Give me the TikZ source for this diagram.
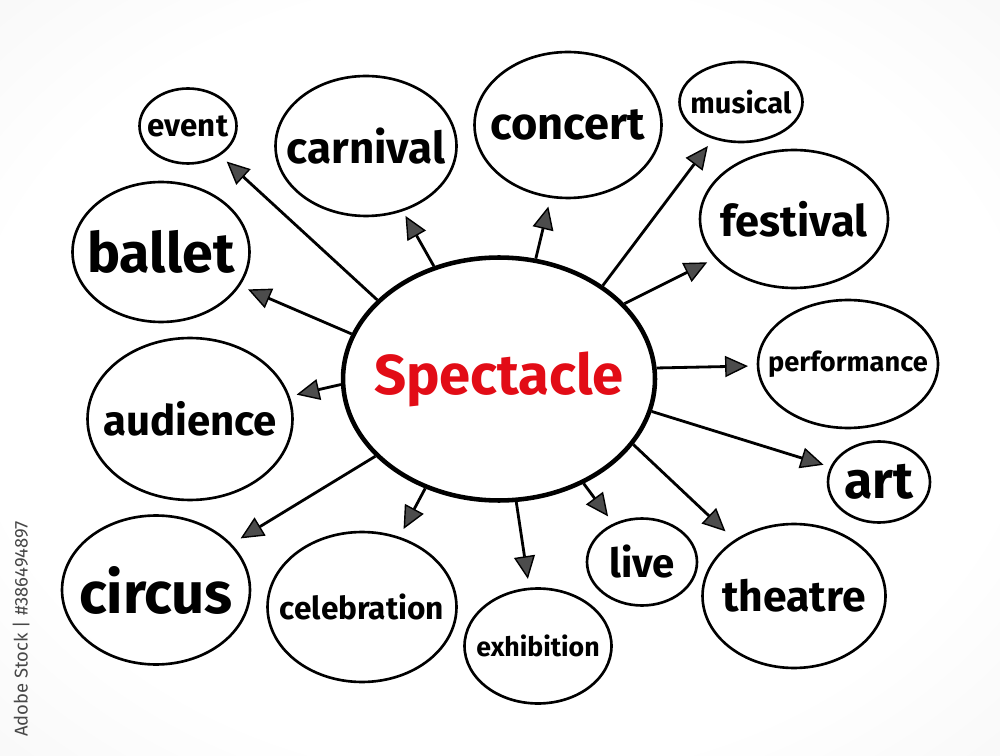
\documentclass[tikz,border=0pt]{standalone}
\usepackage{fontspec}
\setmainfont{Fira Sans}
\usepackage{xcolor}
\usepackage{tikz}
\usetikzlibrary{positioning, shapes.geometric, arrows.meta}

\definecolor{marker}{RGB}{226,12,22}
\pgfdeclareradialshading{paper}{\pgfpoint{0bp}{0bp}}{color(0bp)=(white); color(26bp)=(white); color(60bp)=(black!9); color(72bp)=(black!9)}
\tikzset{word/.style={font=\bfseries\fontsize{#1}{#1}\selectfont}}
% label of zero width, so the ellipse keeps the size given to it
\newcommand{\nowide}[1]{\makebox[0pt]{#1}}

\begin{document}
\begin{tikzpicture}[x=0.02cm, y=-0.02cm]

  \tikzstyle{bubble}=[ellipse, draw, line width=1.5pt, inner sep=0pt]
  \tikzstyle{hub}=[bubble, line width=2.6pt, text=marker]
  \tikzstyle{spoke}=[line width=1.6pt, shorten >=5pt, -{Triangle[length=13pt, width=12pt, fill=black!70, line width=0.8pt]}]

  \shade [shading=paper] (0,0) rectangle (1000,756);
  \useasboundingbox (0,0) rectangle (1000,756);

  \node [hub, minimum width=6.24cm, minimum height=4.86cm, word=32] (spectacle) at (499,379) {\nowide{Spectacle}};

  \node [bubble, minimum width=1.94cm, minimum height=1.5cm, word=17.8] (event) at (188,126) {\nowide{event}};
  \node [bubble, minimum width=3.62cm, minimum height=2.8cm, word=25] (carnival) at (366,146) {\nowide{carnival}};
  \node [bubble, minimum width=3.74cm, minimum height=2.92cm, word=25.7] (concert) at (568,125) {\nowide{concert}};
  \node [bubble, minimum width=2.46cm, minimum height=1.6cm, word=16.5] (musical) at (741,102) {\nowide{musical}};
  \node [bubble, minimum width=3.76cm, minimum height=2.76cm, word=24.7] (festival) at (794,219) {\nowide{festival}};
  \node [bubble, minimum width=3.54cm, minimum height=2.8cm, word=31.6] (ballet) at (161,252) {\nowide{ballet}};
  \node [bubble, minimum width=3.6cm, minimum height=2.56cm, word=15.5] (performance) at (848,364) {\nowide{performance}};
  \node [bubble, minimum width=4.1cm, minimum height=3.24cm, word=23.9] (audience) at (190,419) {\nowide{audience}};
  \node [bubble, minimum width=2.04cm, minimum height=1.62cm, word=29.4] (art) at (879,482) {\nowide{art}};
  \node [bubble, minimum width=3.76cm, minimum height=2.98cm, word=33] (circus) at (156,590) {\nowide{circus}};
  \node [bubble, minimum width=3.78cm, minimum height=3cm, word=18] (celebration) at (362,607) {\nowide{celebration}};
  \node [bubble, minimum width=2.94cm, minimum height=2.3cm, word=15.2] (exhibition) at (538,646) {\nowide{exhibition}};
  \node [bubble, minimum width=2.2cm, minimum height=1.74cm, word=22.9] (live) at (642,562) {\nowide{live}};
  \node [bubble, minimum width=3.66cm, minimum height=2.88cm, word=24.3] (theatre) at (794,596) {\nowide{theatre}};

  \node [rotate=90, text=black!72, font=\fontsize{10.5}{12}\selectfont] (stock) at (21,629) {Adobe Stock | \#386494897};

  \draw [spoke] (spectacle.147) -- (event);
  \draw [spoke, shorten >=3pt] (spectacle.120) -- (carnival);
  \draw [spoke] (spectacle.73) -- (concert);
  \draw [spoke] (spectacle.42) -- (musical);
  \draw [spoke] (spectacle.31) -- (festival);
  \draw [spoke] (spectacle.4) -- (performance);
  \draw [spoke, shorten >=4pt] (spectacle.-12) -- (art);
  \draw [spoke, shorten >=7pt] (spectacle.-26) -- (theatre);
  \draw [spoke] (spectacle.-51) -- (live);
  \draw [spoke] (spectacle.-82) -- (exhibition);
  \draw [spoke] (spectacle.-124) -- (celebration);
  \draw [spoke, shorten >=6pt] (spectacle.-148) -- (circus);
  \draw [spoke, shorten >=4pt] (spectacle.182) -- (audience);
  \draw [spoke] (spectacle.163) -- (ballet);
\end{tikzpicture}
\end{document}
